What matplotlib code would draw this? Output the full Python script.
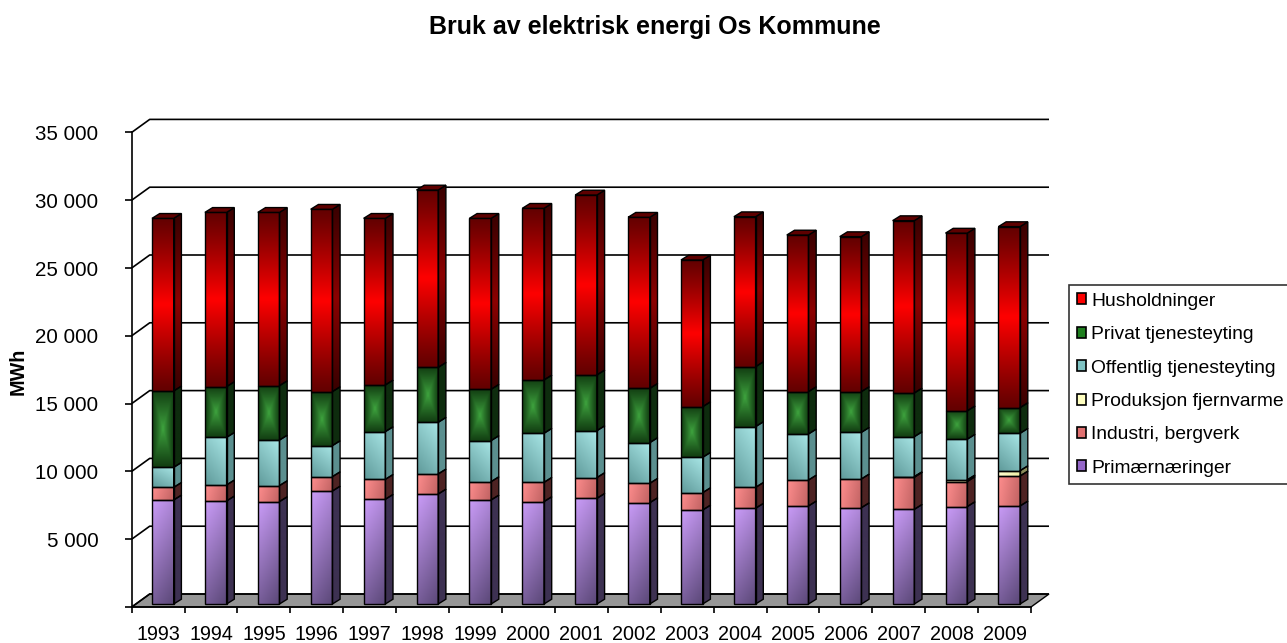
import numpy as np
import matplotlib
matplotlib.use('Agg')
import matplotlib.pyplot as plt
from matplotlib.patches import Polygon, Patch
from matplotlib.colors import to_rgb

plt.rcParams['font.family'] = ['Liberation Sans', 'DejaVu Sans']

# MWh per sektor, lest av figuren
years = [str(y) for y in range(1993, 2010)]
primaer = [7670, 7600, 7550, 8330, 7720, 8110, 7670, 7550, 7790, 7470, 6930, 7060, 7230, 7100, 6980, 7180, 7230]
industri = [930, 1180, 1180, 1060, 1470, 1480, 1350, 1420, 1530, 1430, 1280, 1540, 1910, 2120, 2370, 1850, 2210]
fjernvarme = [0, 0, 0, 0, 0, 0, 0, 0, 0, 0, 0, 0, 0, 0, 40, 120, 390]
offentlig = [1480, 3510, 3360, 2290, 3520, 3810, 3030, 3620, 3460, 3000, 2610, 4480, 3400, 3440, 2950, 3000, 2760]
privat = [5630, 3740, 4010, 3980, 3440, 4050, 3780, 3930, 4110, 4000, 3730, 4420, 3120, 3000, 3220, 2090, 1890]
hushold = [12730, 12850, 12780, 13450, 12290, 13080, 12610, 12660, 13270, 12620, 10820, 11060, 11550, 11430, 12710, 13110, 13350]

series = [
    ('Primærnæringer', primaer, 'purple'),
    ('Industri, bergverk', industri, 'pink'),
    ('Produksjon fjernvarme', fjernvarme, 'yellow'),
    ('Offentlig tjenesteyting', offentlig, 'cyan'),
    ('Privat tjenesteyting', privat, 'green'),
    ('Husholdninger', hushold, 'red'),
]
legend_col = {'red': '#ff0000', 'green': '#1f7f1f', 'cyan': '#80c4c4',
              'yellow': '#ffffc0', 'pink': '#e07070', 'purple': '#9466c8'}
side_col = {'red': '#5a0000', 'green': '#0e2c0e', 'cyan': '#5b8f8f',
            'yellow': '#8c8c5a', 'pink': '#4e2323', 'purple': '#3d3152'}

W, H = 1287, 643
fig = plt.figure(figsize=(W / 100, H / 100), dpi=100)
# front plane of the 3d box
x_left, x_right, y_zero, y_top = 131.7, 1031.0, 607.0, 132.4
ax = fig.add_axes([x_left / W, 1 - y_zero / H, (x_right - x_left) / W, (y_zero - y_top) / H])
ymax = 35000
n = len(years)
ax.set_xlim(-0.5, n - 0.5)
ax.set_ylim(0, ymax)
px_x = (x_right - x_left) / n
px_y = (y_zero - y_top) / ymax

def off(dx_px, dy_px):
    return dx_px / px_x, dy_px / px_y

Dx, Dy = off(18, 13)      # full depth of floor
fx, fy = off(4.7, 3)      # front face of columns
bx, by = off(7.7, 4.8)    # column depth
bw = 0.41

# floor and back wall grid
ax.add_patch(Polygon([(-0.5, 0), (n - 0.5, 0), (n - 0.5 + Dx, Dy), (-0.5 + Dx, Dy)],
                     closed=True, fc='#969696', ec='black', lw=1, zorder=1, clip_on=False))
for v in range(0, ymax + 1, 5000):
    ax.plot([-0.5, -0.5 + Dx, n - 0.5 + Dx], [v, v + Dy, v + Dy], color='black', lw=1.2,
            zorder=1.5, clip_on=False, solid_capstyle='butt')

def lerp(c0, c1, t):
    c0 = np.array(to_rgb(c0)); c1 = np.array(to_rgb(c1))
    t = np.clip(t, 0, 1)[..., None]
    return c0 * (1 - t) + c1 * t

def front_img(kind, ny=60, nx=20):
    u = np.linspace(0, 1, nx)[None, :] * np.ones((ny, 1))
    v = np.linspace(0, 1, ny)[:, None] * np.ones((1, nx))
    if kind == 'red':
        return lerp('#640000', '#ff0000', (1 - np.abs(2 * v - 1)) ** 1.1)
    if kind == 'green':
        d = np.maximum(np.abs(2 * u - 1), np.abs(2 * v - 1))
        return lerp('#3fa53f', '#123e12', d ** 0.9)
    if kind == 'cyan':
        return lerp('#a8e6e6', '#5f9a9a', 0.65 * v + 0.35 * (1 - u))
    if kind == 'pink':
        return lerp('#ff8e8e', '#c06262', 0.8 * u + 0.2 * v)
    if kind == 'purple':
        return lerp('#ca9cf8', '#5b4878', 0.75 * v + 0.25 * u)
    return lerp('#ffffd0', '#f0f0a8', u)

def side_img(kind, ny=60):
    v = np.linspace(0, 1, ny)[:, None] * np.ones((1, 2))
    if kind == 'red':
        return lerp('#3a0000', '#8c0000', (1 - np.abs(2 * v - 1)) ** 1.1)
    c = side_col[kind]
    return lerp(c, c, v)

zc = 3
for i in range(n):
    base = 0
    segs = [(k, vals[i]) for _, vals, k in series if vals[i] > 0]
    for j, (kind, val) in enumerate(segs):
        b, t = base + fy, base + val + fy
        xl, xr = i - bw / 2 + fx, i + bw / 2 + fx
        im = ax.imshow(front_img(kind), extent=(xl, xr, b, t), origin='upper', aspect='auto',
                       interpolation='bilinear', zorder=zc)
        ax.add_patch(Polygon([(xl, b), (xr, b), (xr, t), (xl, t)], closed=True, fill=False,
                             ec='black', lw=1, zorder=zc + 0.5))
        sp = Polygon([(xr, b), (xr + bx, b + by), (xr + bx, t + by), (xr, t)], closed=True,
                     fill=False, ec='black', lw=1, zorder=zc + 0.5)
        ax.add_patch(sp)
        im2 = ax.imshow(side_img(kind), extent=(xr, xr + bx, b, t + by), origin='upper',
                        aspect='auto', interpolation='bilinear', zorder=zc)
        im2.set_clip_path(sp)
        if j == len(segs) - 1:
            top_fc = '#5e0000' if kind == 'red' else side_col[kind]
            ax.add_patch(Polygon([(xl, t), (xr, t), (xr + bx, t + by), (xl + bx, t + by)],
                                 closed=True, fc=top_fc, ec='black', lw=1, zorder=zc + 0.5))
        base += val
ax.set_xlim(-0.5, n - 0.5)
ax.set_ylim(0, ymax)

for s in ['top', 'right']:
    ax.spines[s].set_visible(False)
for s in ['left', 'bottom']:
    ax.spines[s].set_linewidth(1.2)
    ax.spines[s].set_zorder(2)
ax.patch.set_alpha(0)

yt = list(range(0, ymax + 1, 5000))
ax.set_yticks(yt)
ax.set_yticklabels(['' if v == 0 else f'{v:,}'.replace(',', ' ') for v in yt])
ax.tick_params(axis='y', direction='out', length=5, width=1.2, pad=19, labelsize=14.8)
ax.set_xticks(np.arange(-0.5, n, 1.0))
ax.set_xticklabels([])
ax.set_xticks(np.arange(n), minor=True)
ax.set_xticklabels(years, minor=True)
ax.tick_params(axis='x', which='major', direction='out', length=4.5, width=1.2)
ax.tick_params(axis='x', which='minor', length=0, pad=13, labelsize=14.2)

fig.text(655 / W, 1 - 27 / H, 'Bruk av elektrisk energi Os Kommune', ha='center', va='center',
         fontsize=18, fontweight='bold')
fig.text(18 / W, 1 - 371 / H, 'MWh', rotation=90, ha='center', va='center',
         fontsize=14.2, fontweight='bold')

handles = [Patch(fc=legend_col[k], ec='black', lw=1.2, label=name) for name, _, k in series[::-1]]
leg = fig.legend(handles=handles, loc='upper left', bbox_to_anchor=(1069 / W, 1 - 285 / H),
                 borderaxespad=0, fontsize=13.9, frameon=True, fancybox=False,
                 handlelength=0.5, handleheight=0.5, handletextpad=0.25,
                 labelspacing=0.85, borderpad=0.4)
leg.get_frame().set_edgecolor('black')
leg.get_frame().set_linewidth(1.2)

fig.savefig('out.png', dpi=100)
